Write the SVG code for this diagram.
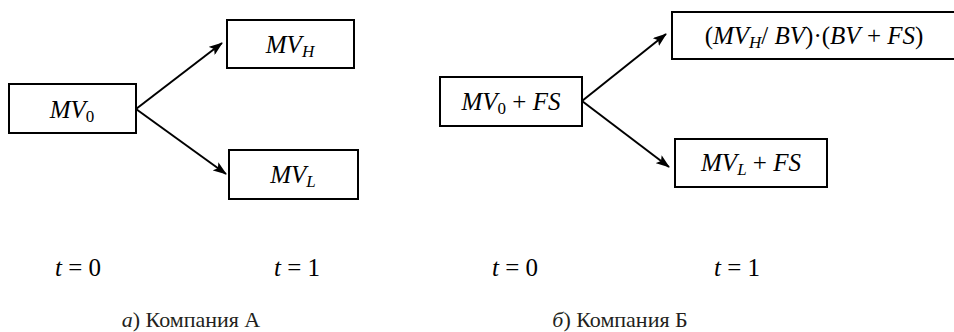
<svg xmlns="http://www.w3.org/2000/svg" width="954" height="332" viewBox="0 0 954 332">
<style>
.box{fill:#fff;stroke:#000;stroke-width:2}
.m{font-size:25px;fill:#000}
.i{font-style:italic}
.sub{font-size:17px}
.cap{font-size:22px;fill:#231f20}
.edge{stroke:#000;stroke-width:2;fill:none}
</style>
<defs>
<marker id="ah" viewBox="0 0 14 10" refX="13" refY="5" markerWidth="14" markerHeight="10" markerUnits="userSpaceOnUse" orient="auto">
<path d="M0,0 L14,5 L0,10 L3,5 z" fill="#000"/>
</marker>
</defs>
<g id="connectors">
<line class="edge" x1="136" y1="109" x2="222" y2="43" marker-end="url(#ah)"/>
<line class="edge" x1="136" y1="109" x2="226" y2="174" marker-end="url(#ah)"/>
<line class="edge" x1="582" y1="101" x2="666" y2="34" marker-end="url(#ah)"/>
<line class="edge" x1="582" y1="101" x2="669" y2="167" marker-end="url(#ah)"/>
</g>
<g font-family="Liberation Serif, Times New Roman, DejaVu Serif, serif">
<g id="a-mv0">
<rect class="box" x="9" y="84" width="127" height="49"/>
<text class="m" x="72" y="118" text-anchor="middle"><tspan class="i">MV</tspan><tspan class="sub" dy="4">0</tspan></text>
</g>
<g id="a-mvh">
<rect class="box" x="227" y="20" width="127" height="48"/>
<text class="m" x="290" y="53" text-anchor="middle"><tspan class="i">MV</tspan><tspan class="sub i" dy="4">H</tspan></text>
</g>
<g id="a-mvl">
<rect class="box" x="229" y="150" width="129" height="49"/>
<text class="m" x="293" y="183" text-anchor="middle"><tspan class="i">MV</tspan><tspan class="sub i" dy="4">L</tspan></text>
</g>
<g id="b-mv0">
<rect class="box" x="440" y="77" width="142" height="49"/>
<text class="m" x="511" y="110" text-anchor="middle"><tspan class="i">MV</tspan><tspan class="sub" dy="4">0</tspan><tspan dy="-4"> + </tspan><tspan class="i">FS</tspan></text>
</g>
<g id="b-top">
<rect class="box" x="672" y="12" width="290" height="47"/>
<text class="m" x="814" y="44" text-anchor="middle">(<tspan class="i">MV</tspan><tspan class="sub i" dy="4">H</tspan><tspan dy="-4">/ </tspan><tspan class="i">BV</tspan>)·(<tspan class="i">BV</tspan> + <tspan class="i">FS</tspan>)</text>
</g>
<g id="b-bottom">
<rect class="box" x="675" y="139" width="152" height="48"/>
<text class="m" x="751" y="171" text-anchor="middle"><tspan class="i">MV</tspan><tspan class="sub i" dy="4">L</tspan><tspan dy="-4"> + </tspan><tspan class="i">FS</tspan></text>
</g>
<g id="labels">
<text class="m" x="78" y="276" text-anchor="middle"><tspan class="i">t</tspan> = 0</text>
<text class="m" x="297" y="276" text-anchor="middle"><tspan class="i">t</tspan> = 1</text>
<text class="m" x="515" y="276" text-anchor="middle"><tspan class="i">t</tspan> = 0</text>
<text class="m" x="737" y="276" text-anchor="middle"><tspan class="i">t</tspan> = 1</text>
<text class="cap" x="191" y="327" text-anchor="middle"><tspan class="i">а</tspan>) Компания А</text>
<text class="cap" x="620" y="327" text-anchor="middle"><tspan class="i">б</tspan>) Компания Б</text>
</g>
</g>
</svg>
